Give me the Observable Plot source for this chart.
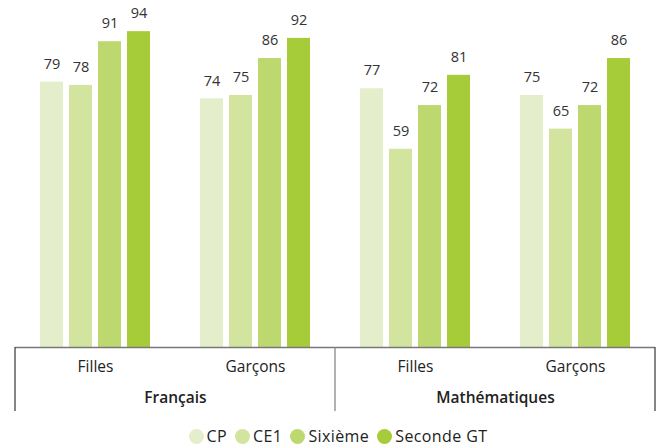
<!DOCTYPE html>
<html>
<head>
<meta charset="utf-8">
<script src="https://cdn.jsdelivr.net/npm/d3@7"></script>
<script src="https://cdn.jsdelivr.net/npm/@observablehq/plot@0.6"></script>
<style>
  body { margin: 0; background: #fff; font-family: "Open Sans", sans-serif; }
  #chart { width: 662px; }
  .legend { display: flex; justify-content: center; align-items: center; height: 24px; font-size: 16px; letter-spacing: 0.4px; color: #222; padding-left: 14px; }
  .legend span.item { display: inline-flex; align-items: center; margin: 0 4px; }
  .legend span.dot { width: 15px; height: 15px; border-radius: 50%; display: inline-block; margin-right: 3px; }
</style>
</head>
<body>
<div id="chart"></div>
<script>
const subjects = ["Français", "Français", "Mathématiques", "Mathématiques"];
const genders = ["Filles", "Garçons", "Filles", "Garçons"];
const series = ["CP", "CE1", "Sixième", "Seconde GT"];
const cp = [79, 74, 77, 75];
const ce1 = [78, 75, 59, 65];
const sixieme = [91, 86, 72, 72];
const seconde = [94, 92, 81, 86];
const colors = ["#e4eecb", "#d2e49e", "#bcd86e", "#a6cd39"];

const keys = subjects.map((s, i) => s + "|" + genders[i]);
const valuesBySeries = [cp, ce1, sixieme, seconde];
const data = [];
keys.forEach((k, i) => {
  series.forEach((s, j) => data.push({key: k, series: s, value: valuesBySeries[j][i]}));
});
const groupRows = keys.map((k, i) => ({key: k, gender: genders[i]}));
const subjectRows = keys.filter((k, i) => i % 2 === 0).map(k => ({key: k, subject: k.split("|")[0]}));

const plot = Plot.plot({
  width: 662,
  height: 424,
  marginLeft: 13,
  marginRight: 6,
  marginTop: 11,
  marginBottom: 77,
  style: {fontFamily: "Open Sans, sans-serif", background: "white", color: "#222"},
  fx: {domain: keys, padding: 0, axis: null},
  x: {domain: series, paddingInner: 0.217, paddingOuter: 0.86, axis: null},
  y: {domain: [0, 100], axis: null},
  color: {domain: series, range: colors},
  marks: [
    Plot.barY(data, {fx: "key", x: "series", y: "value", fill: "series"}),
    Plot.text(data, {fx: "key", x: "series", y: "value", text: d => String(d.value), dy: -18, fontSize: 14.5, fill: "#333"}),
    Plot.ruleY([0], {stroke: "#777", strokeWidth: 1.5}),
    Plot.text(groupRows, {fx: "key", frameAnchor: "bottom", lineAnchor: "middle", text: "gender", dy: 20, fontSize: 15.5, fill: "#222"}),
    Plot.text(subjectRows, {fx: "key", frameAnchor: "bottom-right", lineAnchor: "middle", textAnchor: "middle", text: "subject", dy: 51, fontSize: 15.5, fontWeight: 600, fill: "#222"})
  ]
});

// vertical separators of the category table, positioned from the fx/y scales
const fxs = plot.scale("fx");
const ys = plot.scale("y");
const y0 = ys.apply(0);
const xs = [fxs.apply(keys[0]), fxs.apply(keys[2]), fxs.apply(keys[3]) + fxs.bandwidth];
const g = d3.select(plot).append("g");
xs.forEach((x, i) => {
  g.append("line").attr("x1", x).attr("x2", x).attr("y1", y0).attr("y2", y0 + 64)
    .attr("stroke", i === 1 ? "#888" : "#444").attr("stroke-width", 1.3);
});

document.getElementById("chart").appendChild(plot);

const legend = d3.select("#chart").append("div").attr("class", "legend");
series.forEach((s, i) => {
  const item = legend.append("span").attr("class", "item");
  item.append("span").attr("class", "dot").style("background", colors[i]);
  item.append("span").text(s);
});
</script>
</body>
</html>
